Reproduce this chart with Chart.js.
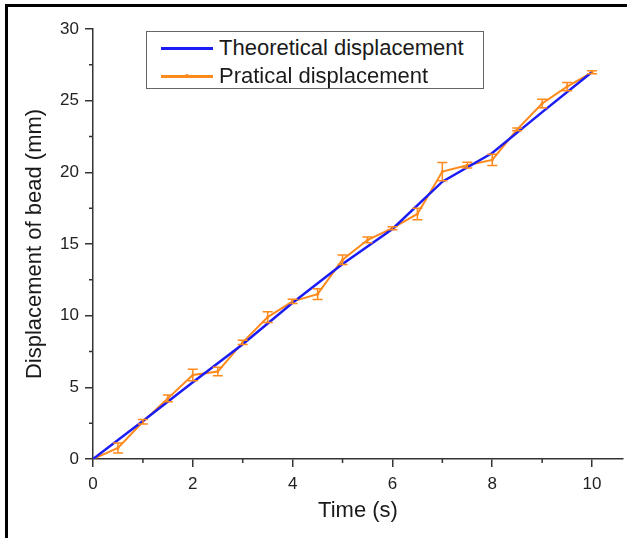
<!DOCTYPE html>
<html>
<head>
<meta charset="utf-8">
<script src="https://cdn.jsdelivr.net/npm/chart.js@4/dist/chart.umd.min.js"></script>
<style>
  html, body { margin: 0; padding: 0; background: #fff; }
  #wrap { position: relative; width: 627px; height: 538px; overflow: hidden; }
  #frame { position: absolute; left: 5px; top: 4px; width: 640px; height: 560px;
           border-top: 3px solid #000; border-left: 3px solid #000; pointer-events: none; }
  #legend { position: absolute; left: 146px; top: 31px; width: 336px; height: 54px;
            border: 1px solid #666; background: #fff; padding-top: 2px;
            font-family: "Liberation Sans", Arial, sans-serif; font-size: 22px; color: #1a1a1a; }
  #legend .row { position: relative; height: 28px; line-height: 28px; padding-left: 72px; white-space: nowrap; }
  #legend .swatch { position: absolute; left: 14px; top: 13px; width: 52px; height: 2.5px; }
  #legend .dot { position: absolute; left: 24px; top: -1px; width: 4px; height: 4px; border-radius: 2px; }
</style>
</head>
<body>
<div id="wrap">
  <canvas id="chart" width="627" height="538"></canvas>
  <div id="frame"></div>
  <div id="legend"></div>
</div>
<script>
// -- data ----------------------------------------------------------------
const theoryTimes = [0, 1, 2, 3, 4, 5, 6, 7, 8, 9, 10];
const theoryDisp = [0, 2.65, 5.35, 8.0, 10.9, 13.6, 16.05, 19.35, 21.35, 24.2, 27.0];

const practTimes = [0, 0.5, 1, 1.5, 2, 2.5, 3, 3.5, 4, 4.5, 5, 5.5, 6, 6.5, 7, 7.5, 8, 8.5, 9, 9.5, 10];
const practDisp = [0, 0.77, 2.6, 4.23, 5.86, 6.1, 8.14, 9.9, 11.0, 11.5, 13.9, 15.28, 16.1, 17.1, 20.05, 20.5, 20.87, 23.0, 24.8, 25.98, 26.98];
const practErr = [0, 0.35, 0.15, 0.23, 0.4, 0.3, 0.15, 0.37, 0.15, 0.37, 0.33, 0.2, 0.1, 0.4, 0.64, 0.2, 0.4, 0.1, 0.3, 0.28, 0.1];

const xTickLabels = [0, 2, 4, 6, 8, 10];
const yTickLabels = [0, 5, 10, 15, 20, 25, 30];

const seriesNames = ["Theoretical displacement", "Pratical displacement"];
const seriesColors = ["#1c1cf5", "#ff8a1c"];

(() => {
  "use strict";

  const FONT = "'Liberation Sans', Arial, sans-serif";
  const AXIS = "#333";

  // -- error bars ----------------------------------------------------------
  const errorBars = {
    id: "errorBars",
    afterDatasetsDraw(chart) {
      const { ctx, scales: { x, y } } = chart;
      ctx.save();
      ctx.strokeStyle = seriesColors[1];
      ctx.lineWidth = 1.5;
      practTimes.forEach((t, i) => {
        const e = practErr[i];
        if (!e) return;
        const px = x.getPixelForValue(t);
        const top = y.getPixelForValue(practDisp[i] + e);
        const bot = y.getPixelForValue(practDisp[i] - e);
        ctx.beginPath();
        ctx.moveTo(px, top); ctx.lineTo(px, bot);
        ctx.moveTo(px - 5, top); ctx.lineTo(px + 5, top);
        ctx.moveTo(px - 5, bot); ctx.lineTo(px + 5, bot);
        ctx.stroke();
      });
      ctx.restore();
    },
  };

  // -- minor ticks ---------------------------------------------------------
  const minorTicks = {
    id: "minorTicks",
    afterDraw(chart) {
      const { ctx, scales: { x, y }, chartArea } = chart;
      ctx.save();
      ctx.strokeStyle = AXIS;
      ctx.lineWidth = 1.5;
      ctx.beginPath();
      for (let v = 1; v < 10.5; v += 2) {
        const px = x.getPixelForValue(v);
        ctx.moveTo(px, chartArea.bottom); ctx.lineTo(px, chartArea.bottom + 4);
      }
      for (let v = 2.5; v < 30; v += 5) {
        const py = y.getPixelForValue(v);
        ctx.moveTo(chartArea.left, py); ctx.lineTo(chartArea.left - 4, py);
      }
      ctx.stroke();
      ctx.restore();
    },
  };

  const ctx = document.getElementById("chart").getContext("2d");
  new Chart(ctx, {
    type: "line",
    data: {
      datasets: [
        {
          label: seriesNames[0],
          data: theoryTimes.map((t, i) => ({ x: t, y: theoryDisp[i] })),
          borderColor: seriesColors[0],
          borderWidth: 2.5,
          pointRadius: 0,
          tension: 0,
        },
        {
          label: seriesNames[1],
          data: practTimes.map((t, i) => ({ x: t, y: practDisp[i] })),
          borderColor: seriesColors[1],
          backgroundColor: seriesColors[1],
          borderWidth: 2,
          pointRadius: 1.5,
          pointBorderWidth: 0,
          tension: 0,
        },
      ],
    },
    options: {
      responsive: false,
      animation: false,
      layout: { padding: { top: 29, right: 0, left: 0, bottom: 0 } },
      plugins: { legend: { display: false }, tooltip: { enabled: false } },
      scales: {
        x: {
          type: "linear",
          min: 0,
          max: 10.62,
          afterBuildTicks: (s) => { s.ticks = xTickLabels.map((v) => ({ value: v })); },
          afterFit: (s) => { s.height = 79; },
          ticks: { color: "#222", font: { family: FONT, size: 17 }, padding: 7, maxRotation: 0 },
          grid: { drawOnChartArea: false, drawTicks: true, tickLength: 8, color: AXIS, lineWidth: 1.5 },
          border: { display: true, color: AXIS, width: 1.5 },
          title: { display: true, text: "Time (s)", color: "#1a1a1a", font: { family: FONT, size: 22 }, padding: { top: 0, bottom: 14 } },
        },
        y: {
          type: "linear",
          min: 0,
          max: 30,
          afterBuildTicks: (s) => { s.ticks = yTickLabels.map((v) => ({ value: v })); },
          afterFit: (s) => { s.width = 93; },
          ticks: { color: "#222", font: { family: FONT, size: 17 }, padding: 6 },
          grid: { drawOnChartArea: false, drawTicks: true, tickLength: 8, color: AXIS, lineWidth: 1.5 },
          border: { display: true, color: AXIS, width: 1.5 },
          title: { display: true, text: "Displacement of bead (mm)", color: "#1a1a1a", font: { family: FONT, size: 22 }, padding: { top: 22, bottom: 0 } },
        },
      },
    },
    plugins: [errorBars, minorTicks],
  });

  // -- legend (html) -------------------------------------------------------
  const legend = document.getElementById("legend");
  seriesNames.forEach((name, i) => {
    const row = document.createElement("div");
    row.className = "row";
    const sw = document.createElement("span");
    sw.className = "swatch";
    sw.style.background = seriesColors[i];
    if (i === 1) {
      const dot = document.createElement("span");
      dot.className = "dot";
      dot.style.background = seriesColors[i];
      sw.appendChild(dot);
    }
    row.appendChild(sw);
    row.appendChild(document.createTextNode(name));
    legend.appendChild(row);
  });
})();
</script>
</body>
</html>
